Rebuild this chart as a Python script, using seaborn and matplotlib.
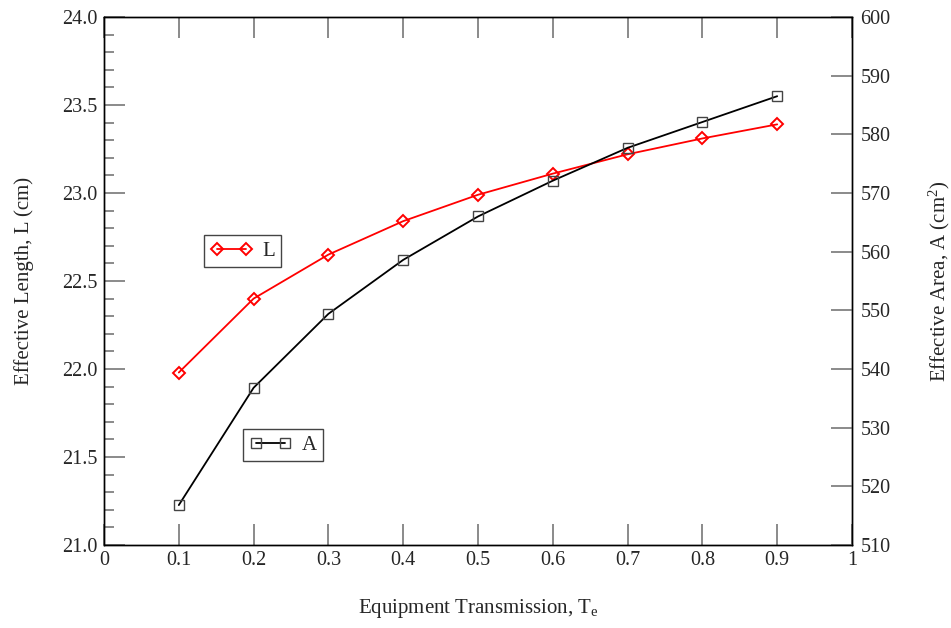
import matplotlib
matplotlib.use("Agg")
import matplotlib.pyplot as plt
import seaborn as sns
import pandas as pd
from matplotlib.ticker import MultipleLocator

# Equipment transmission values and the two computed quantities
transmission = [0.1, 0.2, 0.3, 0.4, 0.5, 0.6, 0.7, 0.8, 0.9]
length_cm = [21.98, 22.40, 22.65, 22.84, 22.99, 23.11, 23.22, 23.31, 23.39]
area_cm2 = [516.8, 536.8, 549.4, 558.6, 566.0, 572.1, 577.7, 582.1, 586.5]

sns.set_theme(style="white")
plt.rcParams["font.family"] = ["Liberation Serif", "DejaVu Serif"]
plt.rcParams["mathtext.default"] = "regular"

df = pd.DataFrame({"T": transmission, "L": length_cm, "A": area_cm2})

fig = plt.figure(figsize=(9.51, 6.28), dpi=100)
ax = fig.add_axes([104 / 951, 1 - 545 / 628, 748 / 951, 528 / 628])
ax2 = ax.twinx()

sns.lineplot(data=df, x="T", y="L", ax=ax, color="red", marker="D",
             markersize=6.5, markerfacecolor="none", markeredgecolor="red",
             markeredgewidth=1.4, linewidth=1.3, label="L", legend=False)
sns.lineplot(data=df, x="T", y="A", ax=ax2, color="black", marker="s",
             markersize=6.8, markerfacecolor="none", markeredgecolor="#444444",
             markeredgewidth=1.0, linewidth=1.3, label="A", legend=False)

ax.set_xlim(0, 1)
ax.set_ylim(21.0, 24.0)
ax2.set_ylim(510, 600)

ax.yaxis.set_major_locator(MultipleLocator(0.5))
ax.yaxis.set_minor_locator(MultipleLocator(0.1))
ax2.yaxis.set_major_locator(MultipleLocator(10))

ax.set_xticks([0, 0.1, 0.2, 0.3, 0.4, 0.5, 0.6, 0.7, 0.8, 0.9, 1.0])
ax.set_xticklabels(["0", "0.1", "0.2", "0.3", "0.4", "0.5", "0.6", "0.7",
                    "0.8", "0.9", "1"])
ax.set_yticks([21.0, 21.5, 22.0, 22.5, 23.0, 23.5, 24.0])
ax.set_yticklabels(["21.0", "21.5", "22.0", "22.5", "23.0", "23.5", "24.0"])

tick_color = "#777777"
fs_tick = 14.5
ax.tick_params(axis="x", which="major", direction="in", length=15, width=1.2,
               color=tick_color, top=True, bottom=True, labelsize=fs_tick, pad=4)
ax.tick_params(axis="y", which="major", direction="in", length=15, width=1.2,
               color=tick_color, left=True, right=False, labelsize=fs_tick, pad=5)
ax.tick_params(axis="y", which="minor", direction="in", length=7, width=1.2,
               color=tick_color, left=True, right=False)
ax2.tick_params(axis="y", which="major", direction="in", length=15, width=1.2,
                color=tick_color, right=True, left=False, labelsize=fs_tick, pad=6)

for a in (ax, ax2):
    for sp in a.spines.values():
        sp.set_color("black")
        sp.set_linewidth(1.0)

fs_label = 15
ax.set_xlabel("Equipment Transmission, T$_e$", fontsize=fs_label, labelpad=20)
ax.set_ylabel("Effective Length, L (cm)", fontsize=fs_label, labelpad=20)
ax2.set_ylabel("Effective Area, A (cm$^2$)", fontsize=fs_label, labelpad=26)

line_L = ax.get_lines()[0]
line_A = ax2.get_lines()[0]

leg_kw = dict(numpoints=2, fancybox=False, framealpha=1, edgecolor="#444444",
              fontsize=15, handlelength=2.0, borderpad=0.3, handletextpad=0.5,
              borderaxespad=0)
leg1 = ax2.legend([line_L], ["L"], loc="upper left",
                  bbox_to_anchor=(204 / 951, 1 - 235 / 628),
                  bbox_transform=fig.transFigure, **leg_kw)
leg1.get_frame().set_linewidth(1.0)
ax2.add_artist(leg1)
leg2 = ax2.legend([line_A], ["A"], loc="upper left",
                  bbox_to_anchor=(243 / 951, 1 - 429 / 628),
                  bbox_transform=fig.transFigure, **leg_kw)
leg2.get_frame().set_linewidth(1.0)

fig.savefig("out.png", dpi=100)
